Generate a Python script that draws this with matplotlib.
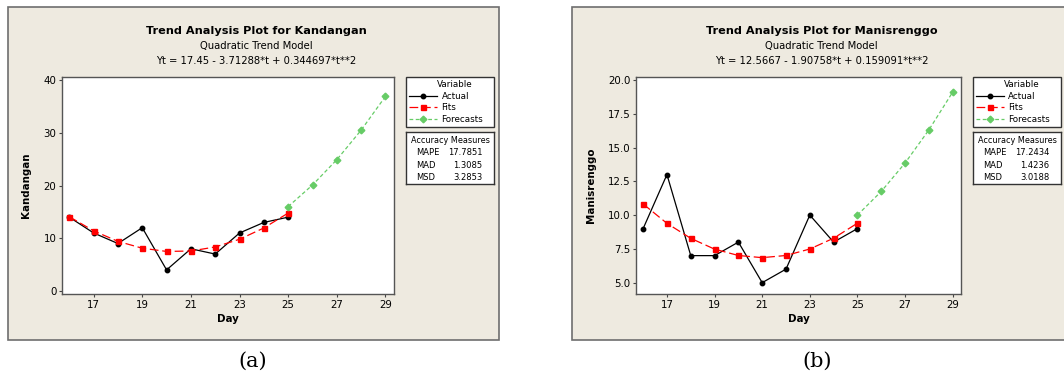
import matplotlib
matplotlib.use('Agg')
import matplotlib.pyplot as plt
from matplotlib.patches import Rectangle

# values
days = [16, 17, 18, 19, 20, 21, 22, 23, 24, 25]
forecast_days = [25, 26, 27, 28, 29]

kand_actual = [14, 11, 9, 12, 4, 8, 7, 11, 13, 14]
kand_fits = [14.08, 11.40, 9.41, 8.11, 7.50, 7.58, 8.35, 9.81, 11.95, 14.78]
kand_forecast = [16.0, 20.1, 24.9, 30.5, 36.9]

mani_actual = [9, 13, 7, 7, 8, 5, 6, 10, 8, 9]
mani_fits = [10.82, 9.39, 8.28, 7.48, 7.01, 6.85, 7.01, 7.49, 8.29, 9.40]
mani_forecast = [10.0, 11.75, 13.85, 16.3, 19.1]

xticks = [17, 19, 21, 23, 25, 27, 29]
kand_yticks = [0, 10, 20, 30, 40]
mani_yticks = [5.0, 7.5, 10.0, 12.5, 15.0, 17.5, 20.0]

kand_measures = [('MAPE', '17.7851'), ('MAD', '1.3085'), ('MSD', '3.2853')]
mani_measures = [('MAPE', '17.2434'), ('MAD', '1.4236'), ('MSD', '3.0188')]

W, H = 1064, 379
BG = '#EEEAE0'
EDGE = '#6E6E6E'
GREEN = '#66CC66'

plt.rcParams['font.family'] = ['DejaVu Sans']

fig = plt.figure(figsize=(W / 100, H / 100), dpi=100)


def rect(x0, y0, x1, y1):
    # pixel box (top-left origin) -> figure fraction [l, b, w, h]
    return [x0 / W, 1 - y1 / H, (x1 - x0) / W, (y1 - y0) / H]


def fx(x):
    return x / W


def fy(y):
    return 1 - y / H


def panel(bg, title_x, axbox, legx, ylab_x, name, eqn, actual, fits, forecast,
          yticks, ylim, yfmt, measures, tag, tag_x):
    l, b, w, h = rect(*bg)
    fig.patches.append(Rectangle((l, b), w, h, transform=fig.transFigure,
                                 facecolor=BG, edgecolor=EDGE, lw=1.2,
                                 zorder=-10))
    fig.text(fx(title_x), fy(31), 'Trend Analysis Plot for ' + name,
             ha='center', va='center', fontsize=8.1, fontweight='bold')
    fig.text(fx(title_x), fy(46), 'Quadratic Trend Model', ha='center',
             va='center', fontsize=7.2)
    fig.text(fx(title_x), fy(61), eqn, ha='center', va='center', fontsize=7.2)

    ax = fig.add_axes(rect(*axbox))
    ax.set_facecolor('white')
    la, = ax.plot(days, actual, color='black', lw=0.9, marker='o', ms=3.2,
                  label='Actual', zorder=3)
    lf, = ax.plot(days, fits, color='red', lw=0.9, ls=(0, (7, 3)), marker='s',
                  ms=3.6, label='Fits', zorder=4)
    lc, = ax.plot(forecast_days, forecast, color=GREEN, lw=0.9,
                  ls=(0, (3, 2)), marker='D', ms=3.4, label='Forecasts',
                  zorder=4)
    ax.set_xlim(15.7, 29.35)
    ax.set_ylim(*ylim)
    ax.set_xticks(xticks)
    ax.set_yticks(yticks)
    ax.set_yticklabels([yfmt % v for v in yticks])
    ax.tick_params(direction='out', length=2.5, width=0.8, color='#444444',
                   labelsize=7.4, pad=1.5)
    for s in ax.spines.values():
        s.set_color('#555555')
        s.set_linewidth(1.0)
    ax.set_xlabel('Day', fontsize=7.4, fontweight='bold', labelpad=3)
    ax.set_ylabel(name, fontsize=7.4, fontweight='bold')
    ax.yaxis.set_label_coords((ylab_x - axbox[0]) / (axbox[2] - axbox[0]), 0.5)

    lx0 = legx
    lx1 = lx0 + 88
    ll, lb, lw_, lh = rect(lx0, 77, lx1, 129)
    leg = fig.legend(handles=[la, lf, lc], title='Variable', loc='upper left',
                     bbox_to_anchor=(ll, fy(77), lw_, 0), mode='expand',
                     fontsize=6.3, title_fontsize=6.3, frameon=True,
                     framealpha=1, fancybox=False, borderpad=0.35,
                     labelspacing=0.3, handlelength=3.2, handletextpad=0.5,
                     borderaxespad=0)
    leg.get_frame().set_edgecolor('#333333')
    leg.get_frame().set_linewidth(1.0)
    leg.get_frame().set_facecolor('white')
    leg._legend_box.align = 'left'
    leg.get_title().set_position((28, 0))

    acc = fig.add_axes(rect(lx0, 132, lx1, 184))
    acc.set_xticks([])
    acc.set_yticks([])
    for s in acc.spines.values():
        s.set_color('#333333')
        s.set_linewidth(1.0)
    acc.text(0.5, 0.83, 'Accuracy Measures', ha='center', va='center',
             fontsize=5.9, transform=acc.transAxes)
    for i, (k, v) in enumerate(measures):
        yy = 0.60 - i * 0.235
        acc.text(0.12, yy, k, ha='left', va='center', fontsize=6.0,
                 transform=acc.transAxes)
        acc.text(0.87, yy, v, ha='right', va='center', fontsize=6.0,
                 transform=acc.transAxes)

    fig.text(fx(tag_x), fy(361), tag, ha='center', va='center', fontsize=15,
             family='DejaVu Serif')


panel((8, 7, 499, 340), 256.5, (62, 77, 394, 294), 406, 31, 'Kandangan',
      'Yt = 17.45 - 3.71288*t + 0.344697*t**2',
      kand_actual, kand_fits, kand_forecast, kand_yticks, (-0.57, 40.57), '%d',
      kand_measures, '(a)', 253)

panel((572, 7, 1090, 340), 821.5, (636, 77, 961, 294), 973, 596,
      'Manisrenggo', 'Yt = 12.5667 - 1.90758*t + 0.159091*t**2',
      mani_actual, mani_fits, mani_forecast, mani_yticks, (4.16, 20.22),
      '%.1f', mani_measures, '(b)', 817)

fig.savefig('out.png', dpi=100)
